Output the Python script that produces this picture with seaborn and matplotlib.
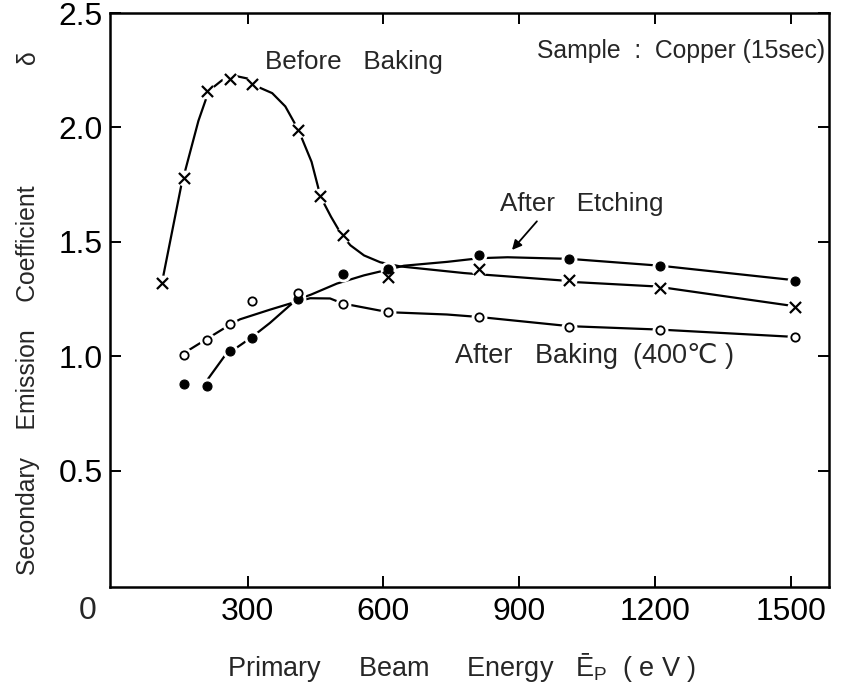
import matplotlib
matplotlib.use("Agg")
import matplotlib.pyplot as plt
import pandas as pd
import seaborn as sns
from matplotlib import font_manager

# ---- measured secondary emission coefficients (copper, 15 sec) ----
energy_before = [110, 160, 210, 260, 310, 410, 460, 510, 610, 810, 1010, 1210, 1510]
delta_before = [1.32, 1.78, 2.16, 2.21, 2.19, 1.99, 1.70, 1.53, 1.345, 1.38, 1.335, 1.30, 1.215]

energy_etch = [160, 210, 260, 310, 410, 510, 610, 810, 1010, 1210, 1510]
delta_etch = [0.88, 0.87, 1.025, 1.08, 1.25, 1.36, 1.38, 1.445, 1.425, 1.395, 1.33]

energy_baked = [160, 210, 260, 310, 410, 510, 610, 810, 1010, 1210, 1510]
delta_baked = [1.005, 1.07, 1.14, 1.24, 1.275, 1.23, 1.195, 1.17, 1.13, 1.115, 1.085]

# ---- hand-drawn guide curves through the measurements ----
curve_before_x = [110, 153, 191, 214, 243, 273, 299, 310, 354, 383, 412, 441, 461, 484,
                  508, 527, 557, 593, 637, 778, 829, 999, 1028, 1198, 1229, 1502, 1512]
curve_before_y = [1.318, 1.746, 2.029, 2.160, 2.206, 2.225, 2.214, 2.188, 2.150, 2.092, 1.989,
                  1.850, 1.697, 1.610, 1.529, 1.485, 1.441, 1.411, 1.393, 1.364, 1.356, 1.331,
                  1.324, 1.306, 1.298, 1.221, 1.214]

curve_etch_x = [212, 249, 307, 349, 407, 440, 497, 557, 610, 645, 741, 813, 874, 1011, 1212, 1507]
curve_etch_y = [0.901, 1.002, 1.081, 1.146, 1.247, 1.270, 1.318, 1.354, 1.379, 1.396, 1.413,
                1.429, 1.433, 1.426, 1.396, 1.333]

curve_baked_x = [153, 207, 262, 283, 349, 409, 438, 482, 510, 611, 740, 812, 1011, 1211, 1509]
curve_baked_y = [1.007, 1.073, 1.140, 1.162, 1.204, 1.240, 1.254, 1.253, 1.231, 1.193, 1.183,
                 1.172, 1.132, 1.117, 1.085]

x_ticks = [300, 600, 900, 1200, 1500]
y_ticks = [0.5, 1.0, 1.5, 2.0, 2.5]
y_tick_labels = ["0.5", "1.0", "1.5", "2.0", "2.5"]

sns.set_style("ticks")

available = {f.name for f in font_manager.fontManager.ttflist}
if "Liberation Sans Narrow" in available:
    base = "Liberation Sans Narrow"
    k = 1.0
else:
    base = "Liberation Sans"
    k = 0.85
word_font = [base, "DejaVu Sans"]
plt.rcParams["font.family"] = word_font
plt.rcParams["mathtext.fontset"] = "custom"
plt.rcParams["mathtext.rm"] = base

fig = plt.figure(figsize=(8.42, 6.86), dpi=100)
ax = fig.add_axes([110 / 842, 1 - 587 / 686, 719 / 842, 574 / 686])

line_kw = dict(color="black", linewidth=1.6, sort=False, estimator=None, legend=False)
for cx, cy in [(curve_before_x, curve_before_y),
               (curve_etch_x, curve_etch_y),
               (curve_baked_x, curve_baked_y)]:
    sns.lineplot(x=cx, y=cy, ax=ax, zorder=2, **line_kw)

# white halos leave small gaps where the curves meet the markers
for ex, dy in [(energy_before, delta_before), (energy_etch, delta_etch),
               (energy_baked, delta_baked)]:
    sns.scatterplot(x=ex, y=dy, ax=ax, s=130, color="white", linewidth=0,
                    zorder=3, legend=False)

sns.scatterplot(x=energy_before, y=delta_before, ax=ax, marker="x", s=64,
                color="black", linewidth=1.6, zorder=4, legend=False)
sns.scatterplot(x=energy_etch, y=delta_etch, ax=ax, marker="o", s=42,
                color="black", edgecolor="black", linewidth=0.8, zorder=4, legend=False)
sns.scatterplot(x=energy_baked, y=delta_baked, ax=ax, marker="o", s=36,
                facecolor="white", edgecolor="black", linewidth=1.3, zorder=4, legend=False)

ax.set_xlim(-4.4, 1584.5)
ax.set_ylim(-0.0074, 2.5)
ax.set_xticks(x_ticks)
ax.set_xticklabels([str(t) for t in x_ticks])
ax.set_yticks(y_ticks)
ax.set_yticklabels(y_tick_labels)

for side in ["left", "right", "top", "bottom"]:
    ax.spines[side].set_visible(True)
    ax.spines[side].set_linewidth(1.8)
    ax.spines[side].set_color("black")

tick_size = 27 * k
ax.tick_params(axis="both", which="major", direction="in", length=8, width=1.4,
               top=True, right=True, labelsize=tick_size, color="black", labelcolor="black")
ax.tick_params(axis="x", pad=7)
ax.tick_params(axis="y", pad=5)

# shared origin label at the corner
ax.text(-53, -0.112, "0", fontsize=tick_size, ha="center", va="center", clip_on=False)

ax.set_xlabel("Primary     Beam     Energy   Ē$_{\\mathregular{P}}$  ( e V )",
              fontsize=23 * k)
ax.xaxis.set_label_coords(0.489, -0.112)

ax.set_ylabel("Secondary    Emission    Coefficient", fontsize=21 * k)
ax.yaxis.set_label_coords(-0.097, 0.36)
ax.text(-0.097, 0.923, "δ", transform=ax.transAxes, rotation=90, fontsize=21 * k,
        ha="right", va="center", clip_on=False)

ax.text(338, 2.285, "Before   Baking", fontsize=22 * k, ha="left", va="center")
ax.text(1577, 2.335, "Sample  :  Copper (15sec)", fontsize=21 * k,
        ha="right", va="center")
ax.text(857, 1.665, "After   Etching", fontsize=22 * k, ha="left", va="center")
ax.text(758, 1.0, "After   Baking  (400℃ )", fontsize=23 * k, ha="left", va="center")
ax.annotate("", xy=(884, 1.465), xytext=(939, 1.59),
            arrowprops=dict(arrowstyle="-|>", color="black", lw=1.3,
                            mutation_scale=14, shrinkA=0, shrinkB=0))

fig.savefig("out.png", dpi=100, facecolor="white")
